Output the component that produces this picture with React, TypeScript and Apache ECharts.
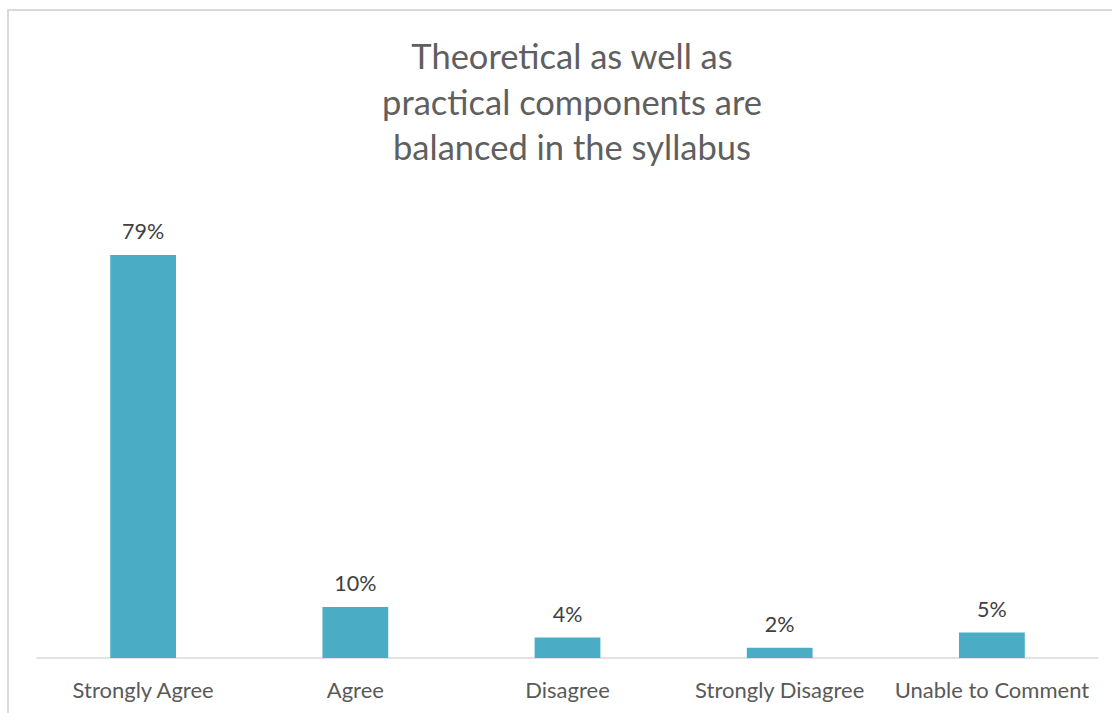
import React, { useEffect, useRef } from "react";
import * as echarts from "echarts";

const categories = ["Strongly Agree", "Agree", "Disagree", "Strongly Disagree", "Unable to Comment"];
const values = [79, 10, 4, 2, 5];
const titleLines = ["Theoretical as well as", "practical components are", "balanced in the syllabus"];

export default function App() {
  const ref = useRef<HTMLDivElement>(null);
  useEffect(() => {
    const chart = echarts.init(ref.current!, null, { renderer: "svg" });
    chart.setOption({
      animation: false,
      backgroundColor: "#ffffff",
      textStyle: { fontFamily: "Lato" },
      title: {
        text: titleLines.join("\n"),
        left: 567,
        top: 28,
        textAlign: "center",
        textStyle: { fontFamily: "Lato", fontSize: 34.5, fontWeight: "normal", color: "#5f5f5f", lineHeight: 45.5 },
      },
      graphic: [
        { type: "line", shape: { x1: 8, y1: 9, x2: 8, y2: 713 }, style: { stroke: "#d9d9d9", lineWidth: 2 } },
        { type: "line", shape: { x1: 8, y1: 10, x2: 1112, y2: 10 }, style: { stroke: "#d9d9d9", lineWidth: 2 } },
      ],
      grid: { left: 37, right: 14, top: 199, bottom: 55, containLabel: false },
      xAxis: {
        type: "category",
        data: categories,
        axisLine: { lineStyle: { color: "#d9d9d9", width: 1.5 } },
        axisTick: { show: false },
        axisLabel: { color: "#595959", fontSize: 22, fontFamily: "Lato", margin: 20, interval: 0 },
      },
      yAxis: { type: "value", min: 0, max: 90, show: false, splitLine: { show: false } },
      series: [
        {
          type: "bar",
          data: values,
          barWidth: "31%",
          itemStyle: { color: "#4bacc6" },
          label: {
            show: true,
            position: "top",
            distance: 13,
            formatter: "{c}%",
            color: "#404040",
            fontSize: 21.5,
            fontFamily: "Lato",
          },
        },
      ],
    });
    return () => chart.dispose();
  }, []);
  return <div ref={ref} style={{ position: "fixed", left: 0, top: 0, width: 1112, height: 713 }} />;
}
